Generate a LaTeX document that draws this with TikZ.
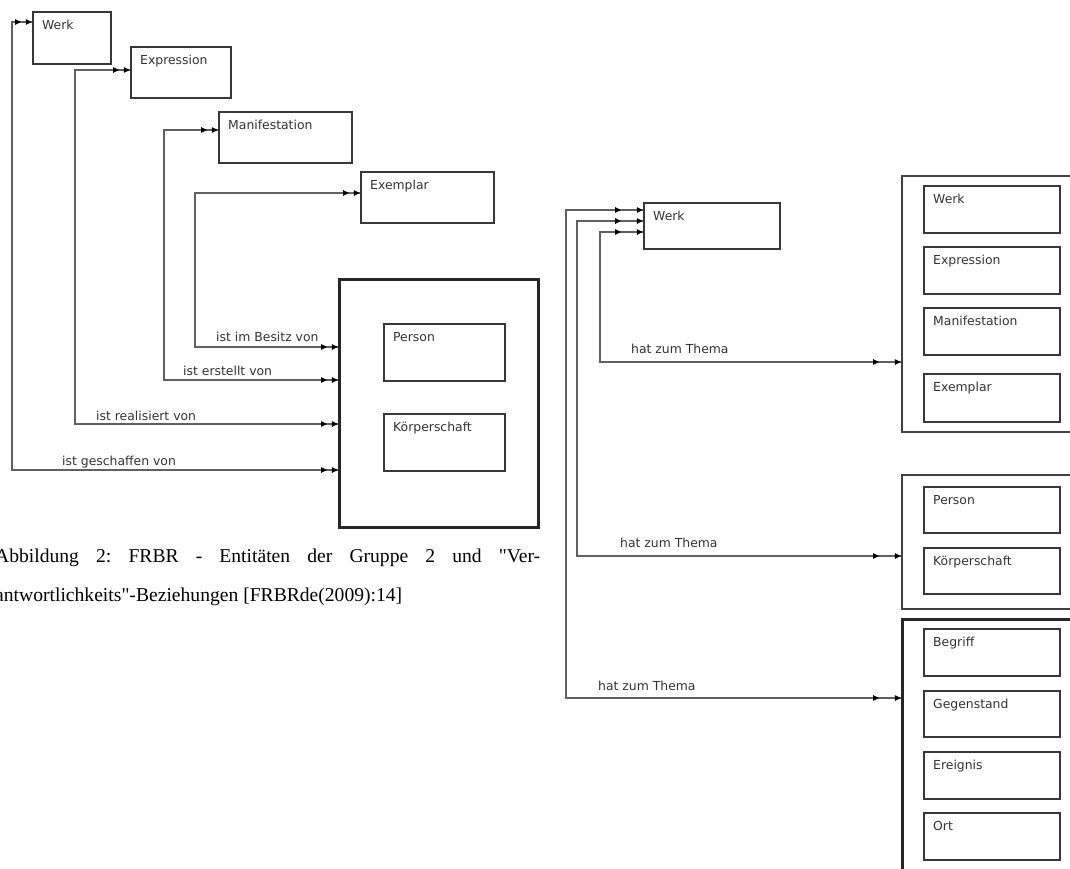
\documentclass[tikz,border=0pt]{standalone}
\usepackage{fontspec}
\setmainfont{DejaVu Sans}
\newfontfamily\capfont{Liberation Serif}
\usetikzlibrary{arrows.meta,decorations.markings}

\tikzset{
  ent/.style={draw=black!78, line width=1.8pt, anchor=north west, inner sep=0pt},
  grp/.style={draw=black!75, line width=2pt, anchor=north west, inner sep=0pt},
  grpbold/.style={draw=black!85, line width=2.8pt, anchor=north west, inner sep=0pt},
  nametext/.style={anchor=base west, inner sep=0pt, text=black!80,
    font=\fontsize{12.4}{14}\selectfont},
  rel/.style={anchor=base west, inner sep=0pt, text=black!80,
    font=\fontsize{12.4}{14}\selectfont},
  capt/.style={anchor=base west, inner sep=0pt, text=black,
    font=\capfont\fontsize{19.6}{24}\selectfont},
  conn/.style={draw=black!62, line width=1.4pt},
  % connector with a pair of arrow heads at each end, #1 = distance between the heads
  dbl/.style={conn, postaction={decorate, decoration={markings,
    mark=at position 0.2pt with {\arrowreversed[black]{Triangle[length=6pt,width=5.5pt]}},
    mark=at position #1 with {\arrowreversed[black]{Triangle[length=6pt,width=5.5pt]}},
    mark=at position -#1 with {\arrow[black]{Triangle[length=6pt,width=5.5pt]}},
    mark=at position -0.2pt with {\arrow[black]{Triangle[length=6pt,width=5.5pt]}}}}},
}

% entity box with its name in the upper left corner
\newcommand\entbox[6]{%
  \node[ent, minimum width=#4pt, minimum height=#5pt] (#1) at (#2,#3) {};
  \node[nametext] (#1-t) at ([shift={(10pt,-18.5pt)}]#1.north west) {#6};}

\begin{document}
\frenchspacing
\begin{tikzpicture}[x=1pt, y=-1pt]
\useasboundingbox (0,0) rectangle (1070,868);
\clip (0,0) rectangle (1070,868);

% ---- group 2: responsibility relationships ----
\entbox{wL}{32}{11}{78}{52}{Werk}
\entbox{xL}{130}{46}{100}{51}{Expression}
\entbox{mL}{218}{111}{133}{51}{Manifestation}
\entbox{eL}{360}{171}{133}{51}{Exemplar}
\node[grpbold, minimum width=199pt, minimum height=248pt] (big) at (338,278) {};
\entbox{pL}{383}{323}{121}{57}{Person}
\entbox{kL}{383}{413}{121}{57}{Körperschaft}

\draw[dbl=11pt] (big.west |- 0,470) -| (12,22) -- (wL.west |- 0,22);
\draw[dbl=11pt] (big.west |- 0,424) -| (75,70) -- (xL.west |- 0,70);
\draw[dbl=11pt] (big.west |- 0,380) -| (164,130) -- (mL.west |- 0,130);
\draw[dbl=11pt] (big.west |- 0,347) -| (195,193) -- (eL.west |- 0,193);

\node[rel] (r1) at (216,341.5) {ist im Besitz von};
\node[rel] (r2) at (183,375.5) {ist erstellt von};
\node[rel] (r3) at (96,420.5) {ist realisiert von};
\node[rel] (r4) at (62,465.5) {ist geschaffen von};

\node[capt] (cap1) at (-5,562)
  {\makebox[545pt][s]{Abbildung 2: FRBR - Entitäten der Gruppe 2 und "Ver-}};
\node[capt] (cap2) at (-5,601) {antwortlichkeits"-Beziehungen [FRBRde(2009):14]};

% ---- subject relationships ----
\entbox{wR}{643}{202}{136}{46}{Werk}

\node[grp, minimum width=200pt, minimum height=256pt] (g1) at (901,175) {};
\entbox{w1}{923}{185}{136}{47}{Werk}
\entbox{x1}{923}{246}{136}{47}{Expression}
\entbox{m1}{923}{307}{136}{47}{Manifestation}
\entbox{e1}{923}{373}{136}{48}{Exemplar}

\node[grp, minimum width=200pt, minimum height=134pt] (g2) at (901,474) {};
\entbox{p2}{923}{486}{136}{46}{Person}
\entbox{k2}{923}{547}{136}{46}{Körperschaft}

\node[grpbold, minimum width=200pt, minimum height=300pt] (g3) at (901,618) {};
\entbox{b3}{923}{628}{136}{47}{Begriff}
\entbox{ge3}{923}{690}{136}{46}{Gegenstand}
\entbox{er3}{923}{751}{136}{47}{Ereignis}
\entbox{o3}{923}{812}{136}{47}{Ort}

\draw[dbl=22pt] (g3.west |- 0,698) -| (566,210) -- (wR.west |- 0,210);
\draw[dbl=22pt] (g2.west |- 0,556) -| (577,221) -- (wR.west |- 0,221);
\draw[dbl=22pt] (g1.west |- 0,362) -| (600,232) -- (wR.west |- 0,232);

\node[rel] (t1) at (631,353.5) {hat zum Thema};
\node[rel] (t2) at (620,547.5) {hat zum Thema};
\node[rel] (t3) at (598,690.5) {hat zum Thema};
\end{tikzpicture}
\end{document}
